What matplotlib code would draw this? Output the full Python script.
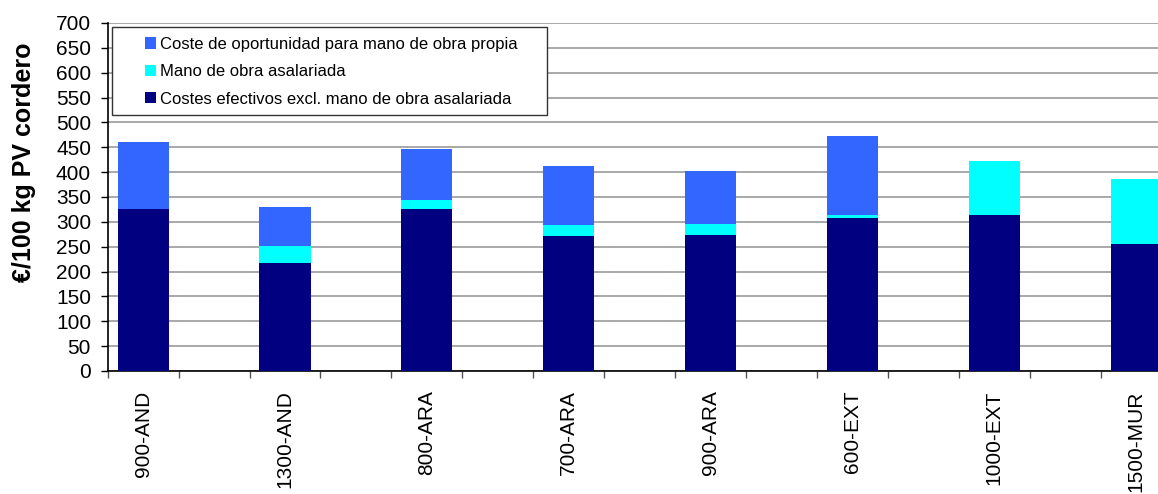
import numpy as np
import matplotlib
matplotlib.use('Agg')
import matplotlib.pyplot as plt
from matplotlib.patches import Rectangle

plt.rcParams['font.family'] = ['Liberation Sans', 'DejaVu Sans']

# datos
categorias = ['900-AND', '1300-AND', '800-ARA', '700-ARA', '900-ARA', '600-EXT', '1000-EXT', '1500-MUR']
costes_efectivos = [326, 217, 326, 271, 274, 308, 314, 255]
mano_asalariada = [0, 34, 18, 22, 22, 6, 108, 131]
coste_oportunidad = [135, 79, 103, 119, 106, 159, 0, 0]

etiquetas = ['Costes efectivos excl. mano de obra asalariada',
             'Mano de obra asalariada',
             'Coste de oportunidad para mano de obra propia']
colores = ['#000080', '#00FFFF', '#3366FF']

fig = plt.figure(figsize=(11.58, 4.94), dpi=100)
ax = fig.add_axes([0.093, 0.249, 0.9187, 0.7045])

# las categorias ocupan una posicion si y otra no
x = np.arange(len(categorias)) * 2
ancho = 0.72

b1 = ax.bar(x, costes_efectivos, ancho, color=colores[0], label=etiquetas[0], zorder=3)
abajo = np.array(costes_efectivos)
b2 = ax.bar(x, mano_asalariada, ancho, bottom=abajo, color=colores[1], label=etiquetas[1], zorder=3)
abajo = abajo + np.array(mano_asalariada)
b3 = ax.bar(x, coste_oportunidad, ancho, bottom=abajo, color=colores[2], label=etiquetas[2], zorder=3)

ax.set_ylim(0, 700)
ax.set_xlim(-0.5, 2 * len(categorias) - 1.5)
ax.set_yticks(np.arange(0, 701, 50))
ax.yaxis.grid(True, color='#999999', linewidth=1.2, zorder=0)
ax.set_axisbelow(True)

ax.set_xticks(x)
ax.set_xticklabels(categorias, rotation=90, fontsize=15)
ax.set_xticks(np.arange(-0.5, 2 * len(categorias) - 1, 1), minor=True)
ax.tick_params(axis='x', which='major', length=0, pad=14)
ax.tick_params(axis='x', which='minor', length=5, width=1, direction='out', color='#555555')
ax.tick_params(axis='y', length=5, width=1, labelsize=15, pad=7)

for s in ['top', 'right']:
    ax.spines[s].set_visible(False)
ax.spines['left'].set_linewidth(1.2)
ax.spines['bottom'].set_linewidth(1.2)

ax.set_ylabel('€/100 kg PV cordero', fontsize=18, fontweight='bold')
ax.yaxis.set_label_coords(-0.067, 0.60)

# marco de la leyenda dibujado aparte (mas margen a los lados que arriba)
marco = Rectangle((0.004, 0.7356), 0.409, 0.2529, transform=ax.transAxes,
                  facecolor='white', edgecolor='#333333', linewidth=1, zorder=4)
ax.add_patch(marco)

leg = ax.legend(handles=[b3, b2, b1], loc='upper left', bbox_to_anchor=(0.035, 0.96),
                fontsize=12, frameon=False,
                handlelength=0.65, handleheight=0.65, handletextpad=0.25,
                labelspacing=0.74, borderpad=0, borderaxespad=0)
leg.set_zorder(5)

fig.savefig('out.png', dpi=100)
